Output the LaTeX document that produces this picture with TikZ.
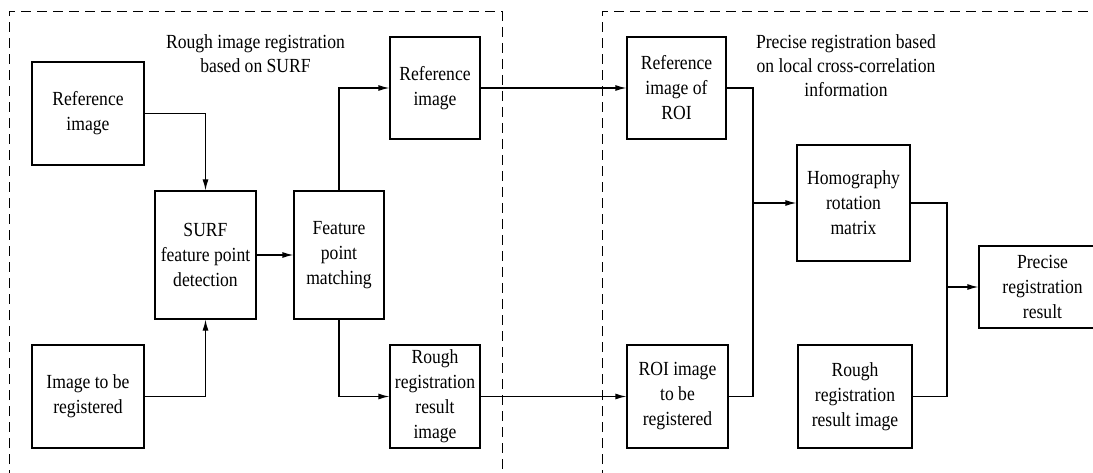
\documentclass[tikz,border=0pt]{standalone}
\usepackage{fontspec}
\setmainfont{Liberation Serif}[FakeStretch=0.88]
\usetikzlibrary{arrows.meta}
\begin{document}
\begin{tikzpicture}[x=1pt,y=-1pt,
  box/.style={draw, line width=1.2pt, align=center, inner sep=0pt, font=\fontsize{20}{25}\selectfont},
  title/.style={align=center, inner sep=0pt, font=\fontsize{20}{24}\selectfont},
  conn/.style={line width=1.2pt},
  arr/.style={conn, -{Latex[length=11pt,width=6pt]}},
  frame/.style={line width=1pt, dash pattern=on 10pt off 6pt}]
\useasboundingbox (0,0) rectangle (1093,473);
\clip (0,0) rectangle (1093,473);
% dashed frames
\draw[frame] (9,480) -- (9,12) -- (502,12) -- (502,480);
\draw[frame] (602,480) -- (602,12) -- (1100,12);
% titles
\node[title] (t1) at (255.5,54) {Rough image registration\\based on SURF};
\node[title] (t2) at (846,65.5) {Precise registration based\\on local cross-correlation\\information};
% nodes
\node[box, minimum width=112pt, minimum height=103pt] (ref1) at (88,113.5) {Reference\\image};
\node[box, minimum width=112pt, minimum height=103pt] (img) at (88,396.5) {Image to be\\registered};
\node[box, minimum width=101pt, minimum height=128pt] (surf) at (205.5,255) {SURF\\feature point\\detection};
\node[box, minimum width=90pt, minimum height=128pt] (fpm) at (339,255) {Feature\\point\\matching};
\node[box, minimum width=90pt, minimum height=102pt] (ref2) at (435,88) {Reference\\image};
\node[box, minimum width=90pt, minimum height=103pt] (rough1) at (435,396.5) {Rough\\registration\\result\\image};
\node[box, minimum width=99pt, minimum height=102pt] (roiref) at (676.5,88) {Reference\\image of\\ROI};
\node[box, minimum width=101pt, minimum height=103pt] (roiimg) at (677.5,396.5) {ROI image\\to be\\registered};
\node[box, minimum width=113pt, minimum height=116pt] (homo) at (853.5,203) {Homography\\rotation\\matrix};
\node[box, minimum width=114pt, minimum height=103pt] (rough2) at (855,396.5) {Rough\\registration\\result image};
\node[box, minimum width=127pt, minimum height=82pt, text width=127pt] (prec) at (1042.5,287) {Precise\\registration\\result};
% connectors
\coordinate (j1) at (753,203);
\coordinate (j2) at (947,287);
\draw[arr] (ref1.east) -| (surf.north);
\draw[arr] (img.east) -| (surf.south);
\draw[arr] (surf.east) -- (fpm.west);
\draw[arr] (fpm.north) |- (ref2.west);
\draw[arr] (fpm.south) |- (rough1.west);
\draw[arr] (ref2.east) -- (roiref.west);
\draw[arr] (rough1.east) -- (roiimg.west);
\draw[conn] (roiref.east) -| (j1);
\draw[conn] (roiimg.east) -| (j1);
\draw[arr] (j1) -- (homo.west);
\draw[conn] (homo.east) -| (j2);
\draw[conn] (rough2.east) -| (j2);
\draw[arr] (j2) -- (prec.west);
\end{tikzpicture}
\end{document}
